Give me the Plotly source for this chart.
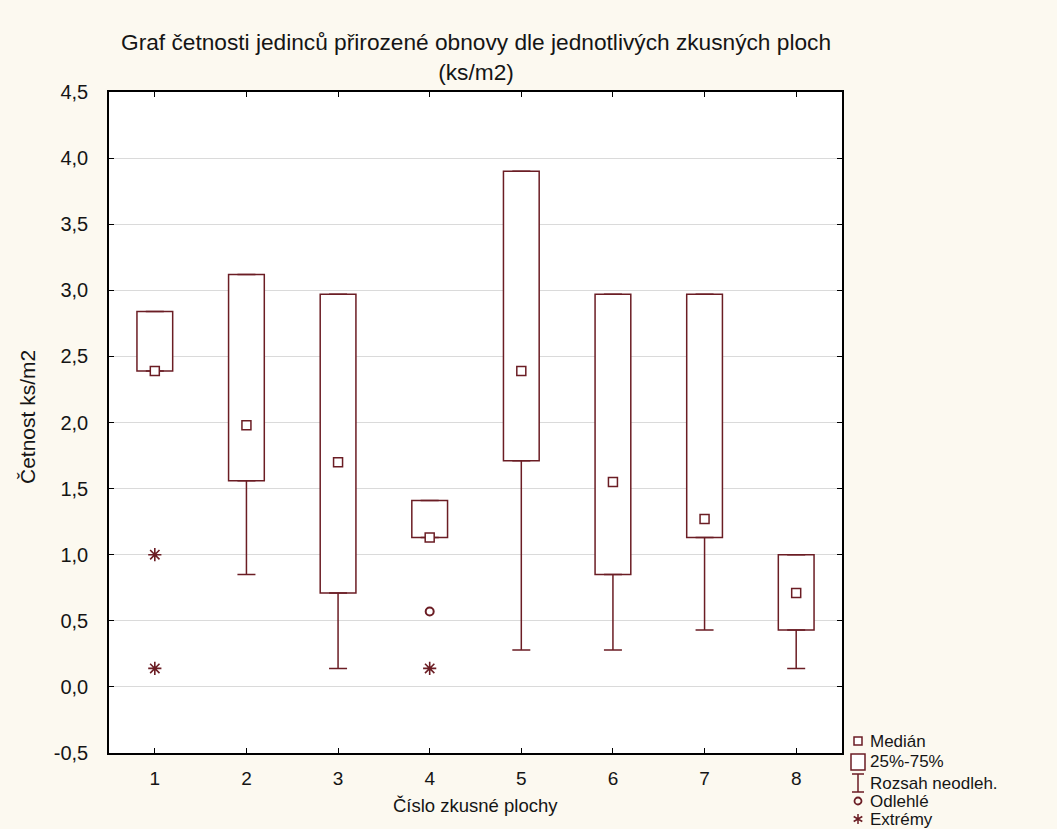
import plotly.graph_objects as go

# ---- data ----
plots = [1, 2, 3, 4, 5, 6, 7, 8]
q1 = [2.39, 1.56, 0.71, 1.13, 1.71, 0.85, 1.13, 0.43]
median = [2.39, 1.98, 1.70, 1.13, 2.39, 1.55, 1.27, 0.71]
q3 = [2.84, 3.12, 2.97, 1.41, 3.90, 2.97, 2.97, 1.00]
whisker_low = [2.39, 0.85, 0.14, 1.13, 0.28, 0.28, 0.43, 0.14]
whisker_high = [2.84, 3.12, 2.97, 1.41, 3.90, 2.97, 2.97, 1.00]
outlier_x = [4]
outlier_y = [0.57]
extreme_x = [1, 1, 4]
extreme_y = [1.00, 0.14, 0.14]
y_ticks = [-0.5, 0.0, 0.5, 1.0, 1.5, 2.0, 2.5, 3.0, 3.5, 4.0, 4.5]
y_ticklabels = ["-0,5", "0,0", "0,5", "1,0", "1,5", "2,0", "2,5", "3,0", "3,5", "4,0", "4,5"]

title_text = "Graf četnosti jedinců přirozené obnovy dle jednotlivých zkusných ploch<br>(ks/m2)"
x_title = "Číslo zkusné plochy"
y_title = "Četnost ks/m2"
legend_labels = ["Medián", "25%-75%", "Rozsah neodleh.", "Odlehlé", "Extrémy"]

# ---- style ----
W, H = 1057, 829
L, R, T, B = 109, 842, 92, 753
MAROON = "#6b1d24"
FONT = "Liberation Sans, Arial, sans-serif"
PAPER = "#fcf9f0"
TXT = "#151515"


def px(x):
    return (x - L) / (R - L)


def py(y):
    return (B - y) / (B - T)


fig = go.Figure()

fig.add_trace(go.Bar(
    x=plots,
    y=[b - a for a, b in zip(q1, q3)],
    base=q1,
    width=0.39,
    marker=dict(color="white", line=dict(color=MAROON, width=1.5)),
    showlegend=False,
))

fig.add_trace(go.Scatter(
    x=plots, y=q1, mode="markers",
    marker=dict(size=1, color="rgba(0,0,0,0)"),
    error_y=dict(type="data", symmetric=False,
                 array=[0] * len(plots),
                 arrayminus=[a - b for a, b in zip(q1, whisker_low)],
                 color=MAROON, thickness=1.5, width=9),
    showlegend=False, hoverinfo="skip",
))
fig.add_trace(go.Scatter(
    x=plots, y=q3, mode="markers",
    marker=dict(size=1, color="rgba(0,0,0,0)"),
    error_y=dict(type="data", symmetric=False,
                 array=[b - a for a, b in zip(q3, whisker_high)],
                 arrayminus=[0] * len(plots),
                 color=MAROON, thickness=1.5, width=9),
    showlegend=False, hoverinfo="skip",
))

fig.add_trace(go.Scatter(
    x=plots, y=median, mode="markers",
    marker=dict(symbol="square", size=9, color="white",
                line=dict(color=MAROON, width=1.5)),
    showlegend=False,
))
fig.add_trace(go.Scatter(
    x=outlier_x, y=outlier_y, mode="markers",
    marker=dict(symbol="circle-open", size=8, color=MAROON,
                line=dict(color=MAROON, width=2)),
    showlegend=False,
))
fig.add_trace(go.Scatter(
    x=extreme_x, y=extreme_y, mode="markers",
    marker=dict(symbol="asterisk-open", size=11, color=MAROON,
                line=dict(color=MAROON, width=1.6)),
    showlegend=False,
))

# ---- legend (drawn manually) ----
shapes = []
annotations = []
leg_y = [741, 762, 783, 801, 819]
sym_cx = 858
for lab, yy in zip(legend_labels, leg_y):
    annotations.append(dict(
        x=px(868), y=py(yy), xref="paper", yref="paper",
        text=lab, showarrow=False, xanchor="left", yanchor="middle",
        font=dict(family=FONT, size=17, color=TXT),
    ))
shapes.append(dict(type="rect", xref="paper", yref="paper",
                   x0=px(sym_cx - 4), x1=px(sym_cx + 4),
                   y0=py(leg_y[0] + 4), y1=py(leg_y[0] - 4),
                   line=dict(color=MAROON, width=1.5), fillcolor="white"))
shapes.append(dict(type="rect", xref="paper", yref="paper",
                   x0=px(851), x1=px(865),
                   y0=py(leg_y[1] + 8), y1=py(leg_y[1] - 8),
                   line=dict(color=MAROON, width=1.5), fillcolor="white"))
yy = leg_y[2]
shapes.append(dict(type="path", xref="paper", yref="paper",
                   path=(f"M {px(852)} {py(yy - 9)} L {px(864)} {py(yy - 9)} "
                         f"M {px(858)} {py(yy - 9)} L {px(858)} {py(yy + 9)} "
                         f"M {px(852)} {py(yy + 9)} L {px(864)} {py(yy + 9)}"),
                   line=dict(color=MAROON, width=1.5)))
yy = leg_y[3]
shapes.append(dict(type="circle", xref="paper", yref="paper",
                   x0=px(sym_cx - 3.5), x1=px(sym_cx + 3.5),
                   y0=py(yy + 3.5), y1=py(yy - 3.5),
                   line=dict(color=MAROON, width=1.8)))
yy = leg_y[4]
r = 5
shapes.append(dict(type="path", xref="paper", yref="paper",
                   path=(f"M {px(sym_cx)} {py(yy - r)} L {px(sym_cx)} {py(yy + r)} "
                         f"M {px(sym_cx - 4.3)} {py(yy - 2.5)} L {px(sym_cx + 4.3)} {py(yy + 2.5)} "
                         f"M {px(sym_cx - 4.3)} {py(yy + 2.5)} L {px(sym_cx + 4.3)} {py(yy - 2.5)}"),
                   line=dict(color=MAROON, width=1.5)))

# titles
annotations.append(dict(
    x=0.5, y=py(57), xref="paper", yref="paper", text=title_text,
    showarrow=False, xanchor="center", yanchor="middle",
    font=dict(family=FONT, size=22.7, color=TXT),
))
annotations.append(dict(
    x=0.5, y=py(806), xref="paper", yref="paper", text=x_title,
    showarrow=False, xanchor="center", yanchor="middle",
    font=dict(family=FONT, size=18.5, color=TXT),
))
annotations.append(dict(
    x=px(27), y=py(417), xref="paper", yref="paper", text=y_title,
    showarrow=False, xanchor="center", yanchor="middle", textangle=-90,
    font=dict(family=FONT, size=21, color=TXT),
))

fig.update_layout(
    width=W, height=H,
    margin=dict(l=L, r=W - R, t=T, b=H - B, pad=0),
    paper_bgcolor=PAPER, plot_bgcolor="white",
    barmode="overlay",
    showlegend=False,
    shapes=shapes,
    annotations=annotations,
    font=dict(family=FONT, size=17, color=TXT),
)
fig.update_xaxes(
    range=[0.5, 8.5], tickmode="array", tickvals=plots,
    ticks="inside", ticklen=5, tickwidth=1, tickcolor="black",
    showline=True, linecolor="black", linewidth=1.5, mirror="ticks",
    showgrid=False, zeroline=False, ticklabelstandoff=7,
    tickfont=dict(family=FONT, size=19, color=TXT),
)
fig.update_yaxes(
    range=[-0.5, 4.5], tickmode="array", tickvals=y_ticks, ticktext=y_ticklabels,
    ticks="inside", ticklen=5, tickwidth=1, tickcolor="black",
    showline=True, linecolor="black", linewidth=1.5, mirror="ticks",
    showgrid=True, gridcolor="#dadada", gridwidth=1, zeroline=False,
    ticklabelstandoff=15,
    tickfont=dict(family=FONT, size=20, color=TXT),
)

fig.write_html("out.html")
